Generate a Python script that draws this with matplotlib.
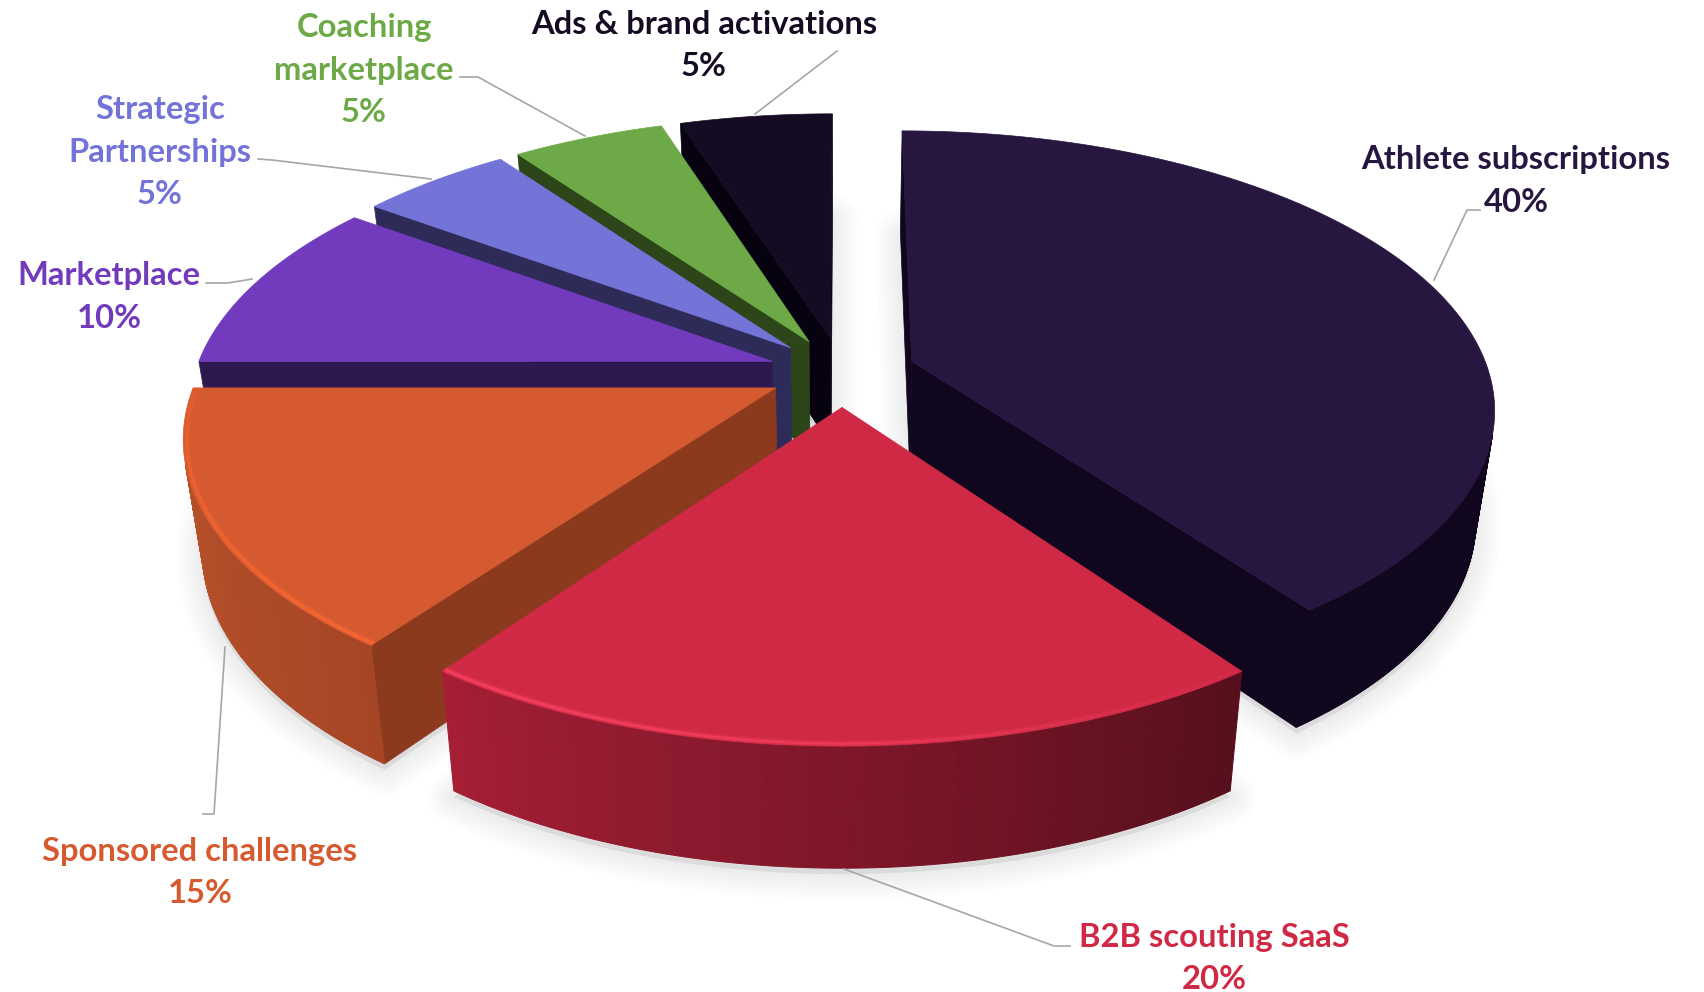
import numpy as np
import matplotlib
matplotlib.use('Agg')
import matplotlib.pyplot as plt
from matplotlib.collections import LineCollection
from matplotlib.colors import to_rgb
from matplotlib.patches import Polygon

# Data, clockwise from 12 o'clock
labels = ['Athlete\u00a0subscriptions', 'B2B scouting SaaS', 'Sponsored challenges', 'Marketplace',
          'Strategic\nPartnerships', 'Coaching\nmarketplace', 'Ads & brand activations']
shares = [40, 20, 15, 10, 5, 5, 5]

top_colors = ['#27163F', '#CF2945', '#D65A30', '#723BBE', '#7373D8', '#6DAA47', '#150C24']
wall_colors = ['#10061E', '#5A0F1E', '#8C3A1E', '#2E1850', '#2F2B58', '#2C4519', '#07020F']
side_right = ['#10061E', '#560F1C', '#A64526', '#2E1850', '#2F2B58', '#2C4519', '#07020F']
side_left = ['#10061E', '#A51E35', '#BC552A', '#2E1850', '#2F2B58', '#2C4519', '#07020F']
rim_colors = [None, '#FF4565', '#FF6A30', None, None, None, None]
text_colors = ['#27163F', '#CF2945', '#D65A30', '#723BBE', '#7373D8', '#6DAA47', '#150C24']

label_pos = [(1516, 160), (1214, 937), (200, 851), (109, 276), (160, 110), (364, 28), (704, 24)]
leaders = [
    [(1480, 210), (1467, 210), (1434, 280)],
    [(1070, 946), (1054, 946), (844, 869)],
    [(203, 814), (214, 814), (225, 647)],
    [(206, 283), (228, 283), (252, 279)],
    [(258, 159), (272, 160), (431, 179)],
    [(460, 77), (478, 77), (585, 136)],
    [(837, 51), (755, 114)],
]

# Projection of the tilted pie onto the page, in pixels
CX, CY = 842, 372
RX, RY = 577, 271
HEIGHT = 112
PERSP_Y = 0.162
PERSP_Z = 0.03
EXPLODE = 0.128


def project(x, y, z):
    w = (1 + PERSP_Y * y) * (1 + PERSP_Z * z)
    return CX + RX * x / w, CY + (-RY * y + HEIGHT * z) / w


def area(pts):
    pts = np.array(pts)
    xs, ys = pts[:, 0], pts[:, 1]
    return np.sum(xs * np.roll(ys, -1) - np.roll(xs, -1) * ys) / 2


def mix(c1, c2, t):
    a, b = np.array(to_rgb(c1)), np.array(to_rgb(c2))
    return tuple(a + (b - a) * t)


plt.rcParams['font.family'] = ['Lato', 'DejaVu Sans']
fig = plt.figure(figsize=(17.04, 9.92), dpi=100)
ax = fig.add_axes([0, 0, 1, 1])
ax.set_xlim(0, 1704)
ax.set_ylim(992, 0)
ax.axis('off')

edges = 90 - np.cumsum([0] + shares) * 3.6
slices = []
for i in range(len(shares)):
    a0, a1 = edges[i], edges[i + 1]
    mid = np.radians((a0 + a1) / 2)
    ox, oy = EXPLODE * np.cos(mid), EXPLODE * np.sin(mid)
    angles = np.radians(np.linspace(a0, a1, int(shares[i] * 12) + 2))
    slices.append((oy, i, ox, angles))

# Soft shadow below the slices
for oy, i, ox, angles in slices:
    xs = ox + np.cos(angles)
    ys = oy + np.sin(angles)
    base = [project(ox, oy, 1)] + [project(a, b, 1) for a, b in zip(xs, ys)]
    base = [(px, py + 6) for px, py in base]
    for lw in (36, 30, 24, 18, 12, 6):
        ax.add_patch(Polygon(base, closed=True, fc=(0, 0, 0, 0.012), ec=(0, 0, 0, 0.012),
                             lw=lw, joinstyle='round', zorder=1))

# Painter's order: far slices first
z = 2
for oy, i, ox, angles in sorted(slices, key=lambda s: -s[0]):
    xs = ox + np.cos(angles)
    ys = oy + np.sin(angles)
    apex = (ox, oy)
    first = (xs[0], ys[0])
    last = (xs[-1], ys[-1])

    # flat walls of the cut
    for a, b in ((apex, first), (last, apex)):
        quad = [project(*a, 0), project(*b, 0), project(*b, 1), project(*a, 1)]
        if area(quad) < 0:
            ax.add_patch(Polygon(quad, closed=True, fc=wall_colors[i], ec=wall_colors[i], lw=0.5, zorder=z))

    # curved outer side, cut into thin strips for the shading
    for j in range(len(angles) - 1):
        quad = [project(xs[j], ys[j], 0), project(xs[j + 1], ys[j + 1], 0),
                project(xs[j + 1], ys[j + 1], 1), project(xs[j], ys[j], 1)]
        if area(quad) < 0:
            c = mix(side_right[i], side_left[i], j / (len(angles) - 2))
            ax.add_patch(Polygon(quad, closed=True, fc=c, ec=c, lw=0.7, zorder=z))

    # top face
    top = [project(ox, oy, 0)] + [project(a, b, 0) for a, b in zip(xs, ys)]
    ax.add_patch(Polygon(top, closed=True, fc=top_colors[i], ec=top_colors[i], lw=0.5, zorder=z + 0.1))

    # light bevel along the front rim
    if rim_colors[i]:
        rx = ox + 0.994 * np.cos(angles)
        ry = oy + 0.994 * np.sin(angles)
        pts = np.array([project(a, b, 0) for a, b in zip(rx, ry)])
        segs = np.stack([pts[:-1], pts[1:]], axis=1)
        glow = np.clip(np.cos(angles[:-1] - np.radians(-125)), 0, 1) ** 2
        rgb = to_rgb(rim_colors[i])
        for lw, strength in ((5, 0.2), (3, 0.35), (1.5, 0.6)):
            cols = [rgb + (g * strength,) for g in glow]
            ax.add_collection(LineCollection(segs, colors=cols, linewidths=lw, zorder=z + 0.2))
    z += 1

# Leader lines and labels
for i in range(len(shares)):
    pts = np.array(leaders[i])
    ax.plot(pts[:, 0], pts[:, 1], color='#A6A6A6', lw=1.2, zorder=30)
    x, y = label_pos[i]
    lines = labels[i].split('\n') + [f'{shares[i]}%']
    for n, line in enumerate(lines):
        ax.text(x, y + n * 42.5, line, color=text_colors[i], fontsize=23.6, fontweight='bold',
                ha='center', va='center', zorder=31)

fig.savefig('out.png', dpi=100, facecolor='white')
